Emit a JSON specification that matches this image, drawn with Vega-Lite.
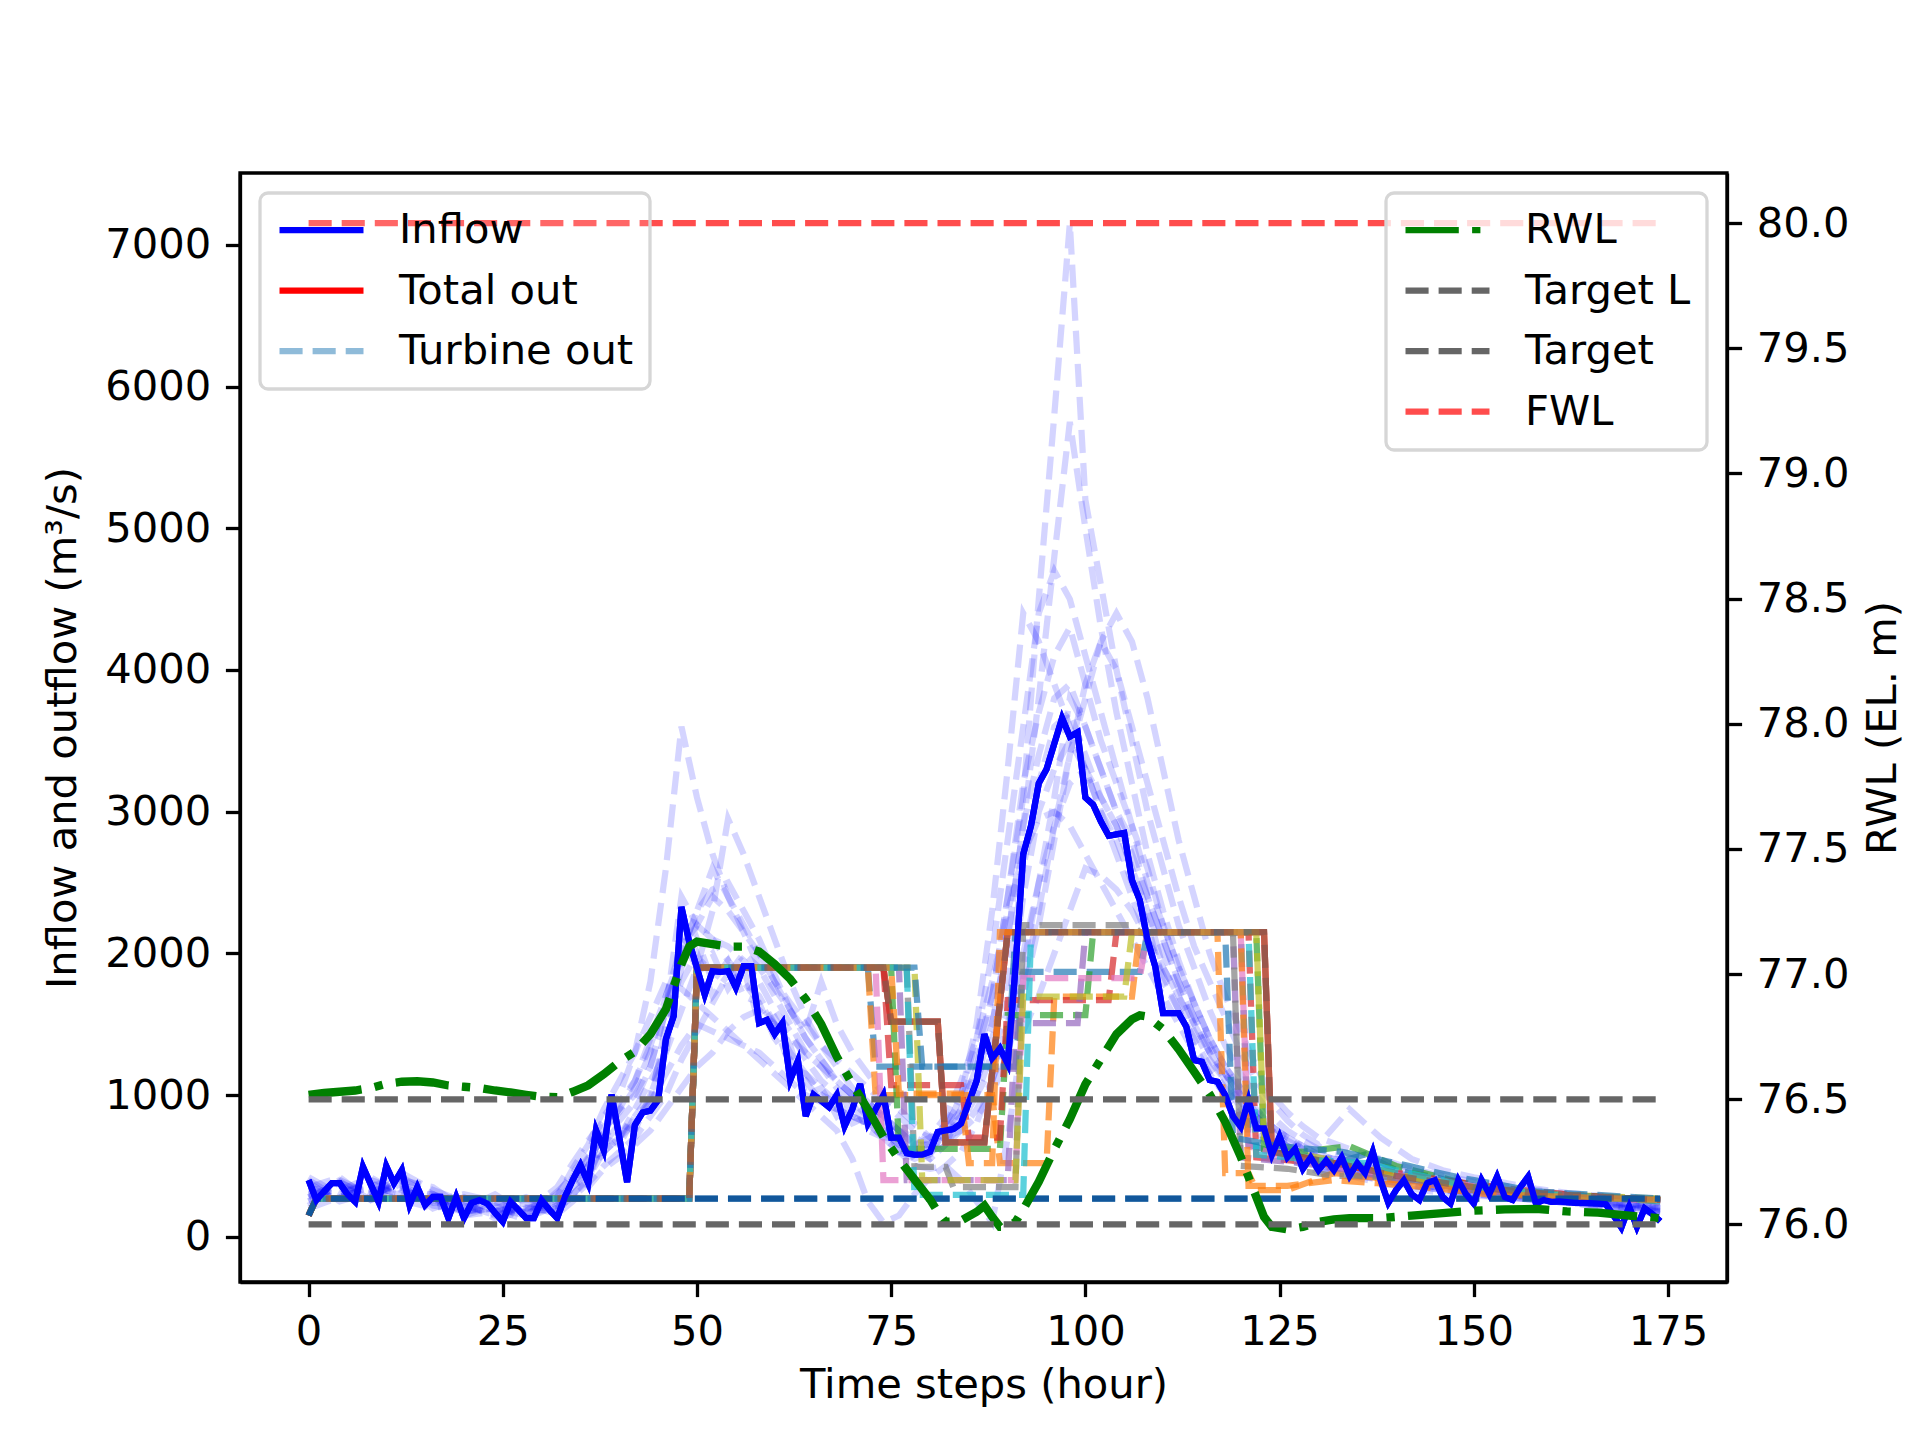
{
  "$schema": "https://vega.github.io/schema/vega-lite/v6.json",
  "width": 1487,
  "height": 1109,
  "autosize": {"type": "none"},
  "padding": {"left": 240, "top": 173, "right": 193, "bottom": 158},
  "background": "white",
  "config": {
    "font": "DejaVu Sans",
    "view": {"stroke": "black", "strokeWidth": 3.3},
    "axis": {
      "labelFont": "DejaVu Sans", "labelFontSize": 41.67, "labelColor": "black",
      "titleFont": "DejaVu Sans", "titleFontSize": 41.67, "titleFontWeight": "normal", "titleColor": "black",
      "tickSize": 14.6, "tickWidth": 3.3, "tickColor": "black",
      "domainColor": "black", "domainWidth": 3.3, "labelPadding": 14.6,
      "grid": false, "labelFlush": false, "labelOverlap": false, "labelBound": false
    },
    "legend": {
      "labelFont": "DejaVu Sans", "labelFontSize": 41.67, "labelColor": "black", "labelLimit": 600,
      "symbolType": "stroke", "symbolSize": 7056, "symbolStrokeWidth": 6.25, "labelOffset": 32,
      "clipHeight": 42, "padding": 16, "offset": 20,
      "strokeColor": "#d6d6d6", "strokeWidth": 3.3, "fillColor": "rgba(255,255,255,0.8)", "cornerRadius": 8
    }
  },
  "datasets": {
    "ens": [
      {"t":0,"m1":280,"m2":420,"m3":350,"m4":200,"m5":300,"m6":380,"m7":250,"m8":330,"m9":400,"m10":220,"m11":300,"m12":250,"m13":350,"m14":280},
      {"t":4,"m1":380,"m2":300,"m3":420,"m4":280,"m5":330,"m6":250,"m7":360,"m8":300,"m9":270,"m10":390,"m11":280,"m12":350,"m13":300,"m14":400},
      {"t":8,"m1":300,"m2":400,"m3":260,"m4":350,"m5":420,"m6":310,"m7":280,"m8":380,"m9":330,"m10":260,"m11":350,"m12":280,"m13":320,"m14":300},
      {"t":12,"m1":420,"m2":330,"m3":380,"m4":450,"m5":300,"m6":360,"m7":400,"m8":280,"m9":350,"m10":310,"m11":300,"m12":400,"m13":260,"m14":350},
      {"t":16,"m1":300,"m2":250,"m3":220,"m4":330,"m5":280,"m6":200,"m7":350,"m8":260,"m9":240,"m10":300,"m11":250,"m12":300,"m13":200,"m14":280},
      {"t":20,"m1":220,"m2":300,"m3":180,"m4":250,"m5":150,"m6":280,"m7":200,"m8":230,"m9":260,"m10":170,"m11":180,"m12":220,"m13":250,"m14":150},
      {"t":24,"m1":160,"m2":250,"m3":200,"m4":130,"m5":220,"m6":180,"m7":300,"m8":150,"m9":190,"m10":240,"m11":200,"m12":150,"m13":220,"m14":180},
      {"t":28,"m1":200,"m2":150,"m3":280,"m4":180,"m5":130,"m6":240,"m7":160,"m8":220,"m9":120,"m10":260,"m11":150,"m12":200,"m13":170,"m14":210},
      {"t":32,"m1":250,"m2":300,"m3":180,"m4":350,"m5":220,"m6":200,"m7":280,"m8":160,"m9":320,"m10":230,"m11":220,"m12":180,"m13":260,"m14":200},
      {"t":34,"m1":380,"m2":450,"m3":300,"m4":520,"m5":350,"m6":280,"m7":480,"m8":250,"m9":420,"m10":330,"m11":350,"m12":420,"m13":300,"m14":380},
      {"t":36,"m1":550,"m2":600,"m3":420,"m4":680,"m5":500,"m6":380,"m7":650,"m8":350,"m9":560,"m10":450,"m11":450,"m12":550,"m13":400,"m14":500},
      {"t":38,"m1":700,"m2":850,"m3":600,"m4":820,"m5":760,"m6":500,"m7":900,"m8":480,"m9":750,"m10":600,"m11":650,"m12":600,"m13":700,"m14":750},
      {"t":40,"m1":820,"m2":1000,"m3":700,"m4":950,"m5":880,"m6":600,"m7":1100,"m8":560,"m9":900,"m10":700,"m11":800,"m12":700,"m13":650,"m14":900},
      {"t":42,"m1":950,"m2":1300,"m3":850,"m4":1100,"m5":1050,"m6":700,"m7":1300,"m8":650,"m9":1100,"m10":800,"m11":750,"m12":900,"m13":850,"m14":1000},
      {"t":44,"m1":1200,"m2":1800,"m3":1000,"m4":1350,"m5":1300,"m6":850,"m7":1550,"m8":750,"m9":1400,"m10":950,"m11":1000,"m12":1100,"m13":950,"m14":1200},
      {"t":46,"m1":1600,"m2":2600,"m3":1300,"m4":1650,"m5":1700,"m6":1000,"m7":1800,"m8":900,"m9":1700,"m10":1150,"m11":1400,"m12":1300,"m13":1500,"m14":1600},
      {"t":48,"m1":2000,"m2":3600,"m3":1600,"m4":1950,"m5":2050,"m6":1250,"m7":1750,"m8":1050,"m9":2000,"m10":1350,"m11":1900,"m12":2100,"m13":1800,"m14":2400},
      {"t":50,"m1":2300,"m2":3100,"m3":1900,"m4":2200,"m5":2200,"m6":1450,"m7":1650,"m8":1200,"m9":2300,"m10":1500,"m11":2100,"m12":1900,"m13":2000,"m14":2200},
      {"t":52,"m1":2600,"m2":2700,"m3":2300,"m4":2400,"m5":2100,"m6":1650,"m7":1550,"m8":1300,"m9":2450,"m10":1450,"m11":1800,"m12":2000,"m13":1700,"m14":2100},
      {"t":54,"m1":2400,"m2":2400,"m3":2950,"m4":2300,"m5":1950,"m6":1850,"m7":1450,"m8":1450,"m9":2500,"m10":1400,"m11":1950,"m12":1750,"m13":1850,"m14":2050},
      {"t":56,"m1":2200,"m2":2150,"m3":2700,"m4":2150,"m5":1800,"m6":2000,"m7":1350,"m8":1550,"m9":2300,"m10":1350,"m11":1700,"m12":1900,"m13":1800,"m14":1950},
      {"t":58,"m1":2000,"m2":1900,"m3":2400,"m4":2000,"m5":1650,"m6":1900,"m7":1250,"m8":1600,"m9":2100,"m10":1300,"m11":1650,"m12":1500,"m13":1700,"m14":1800},
      {"t":60,"m1":1800,"m2":1700,"m3":2100,"m4":1800,"m5":1500,"m6":1750,"m7":1150,"m8":1500,"m9":1850,"m10":1200,"m11":1400,"m12":1550,"m13":1500,"m14":1600},
      {"t":62,"m1":1600,"m2":1500,"m3":1800,"m4":1650,"m5":1300,"m6":1600,"m7":1050,"m8":1400,"m9":1600,"m10":1100,"m11":1250,"m12":1350,"m13":1200,"m14":1450},
      {"t":64,"m1":1400,"m2":1300,"m3":1550,"m4":1500,"m5":1150,"m6":1450,"m7":950,"m8":1300,"m9":1400,"m10":1000,"m11":1100,"m12":1000,"m13":1150,"m14":1250},
      {"t":66,"m1":1250,"m2":1200,"m3":1350,"m4":1350,"m5":1050,"m6":1800,"m7":850,"m8":1200,"m9":1250,"m10":950,"m11":950,"m12":1050,"m13":1000,"m14":1100},
      {"t":68,"m1":1100,"m2":1050,"m3":1200,"m4":1250,"m5":950,"m6":1500,"m7":750,"m8":1100,"m9":1100,"m10":900,"m11":900,"m12":850,"m13":950,"m14":1000},
      {"t":70,"m1":1000,"m2":950,"m3":1050,"m4":1150,"m5":850,"m6":1300,"m7":550,"m8":1000,"m9":1000,"m10":850,"m11":850,"m12":950,"m13":800,"m14":900},
      {"t":72,"m1":950,"m2":850,"m3":950,"m4":1050,"m5":800,"m6":1150,"m7":250,"m8":950,"m9":900,"m10":800,"m11":800,"m12":750,"m13":850,"m14":900},
      {"t":74,"m1":850,"m2":750,"m3":850,"m4":950,"m5":700,"m6":1000,"m7":100,"m8":850,"m9":800,"m10":700,"m11":750,"m12":700,"m13":800,"m14":850},
      {"t":76,"m1":750,"m2":650,"m3":750,"m4":850,"m5":600,"m6":900,"m7":150,"m8":750,"m9":700,"m10":600,"m11":650,"m12":700,"m13":600,"m14":750},
      {"t":78,"m1":650,"m2":600,"m3":650,"m4":750,"m5":550,"m6":800,"m7":300,"m8":650,"m9":650,"m10":500,"m11":600,"m12":550,"m13":650,"m14":700},
      {"t":80,"m1":650,"m2":550,"m3":650,"m4":700,"m5":600,"m6":700,"m7":420,"m8":600,"m9":700,"m10":480,"m11":620,"m12":580,"m13":550,"m14":650},
      {"t":82,"m1":750,"m2":650,"m3":800,"m4":750,"m5":750,"m6":700,"m7":500,"m8":650,"m9":850,"m10":500,"m11":700,"m12":750,"m13":650,"m14":800},
      {"t":84,"m1":900,"m2":800,"m3":1000,"m4":850,"m5":1000,"m6":750,"m7":600,"m8":750,"m9":1100,"m10":400,"m11":850,"m12":800,"m13":900,"m14":950},
      {"t":86,"m1":1200,"m2":1100,"m3":1400,"m4":1000,"m5":1500,"m6":850,"m7":800,"m8":900,"m9":1400,"m10":250,"m11":1100,"m12":1000,"m13":1200,"m14":1300},
      {"t":88,"m1":1700,"m2":1500,"m3":2000,"m4":1200,"m5":2300,"m6":1000,"m7":1100,"m8":1100,"m9":1800,"m10":100,"m11":1400,"m12":1300,"m13":1500,"m14":1700},
      {"t":90,"m1":2400,"m2":2100,"m3":2800,"m4":1400,"m5":3300,"m6":1300,"m7":1500,"m8":1400,"m9":2300,"m10":700,"m11":1800,"m12":1600,"m13":2100,"m14":2400},
      {"t":92,"m1":3100,"m2":2900,"m3":3600,"m4":1800,"m5":4400,"m6":1700,"m7":2000,"m8":1900,"m9":2700,"m10":1450,"m11":2600,"m12":2400,"m13":2900,"m14":3200},
      {"t":94,"m1":4500,"m2":3800,"m3":4400,"m4":2300,"m5":4200,"m6":2200,"m7":2500,"m8":2500,"m9":2950,"m10":1700,"m11":3200,"m12":3000,"m13":3400,"m14":3700},
      {"t":96,"m1":5800,"m2":4800,"m3":4700,"m4":2900,"m5":3900,"m6":2800,"m7":2900,"m8":3100,"m9":3000,"m10":2000,"m11":3600,"m12":3300,"m13":3800,"m14":4100},
      {"t":98,"m1":7150,"m2":5750,"m3":4500,"m4":3400,"m5":3600,"m6":3400,"m7":3200,"m8":3800,"m9":2900,"m10":2300,"m11":3700,"m12":3500,"m13":3900,"m14":4300},
      {"t":100,"m1":5200,"m2":5000,"m3":4100,"m4":3800,"m5":3300,"m6":3900,"m7":3300,"m8":3600,"m9":2700,"m10":2600,"m11":3400,"m12":3300,"m13":3600,"m14":3900},
      {"t":102,"m1":4600,"m2":4300,"m3":3700,"m4":4200,"m5":3000,"m6":4200,"m7":3100,"m8":3300,"m9":2500,"m10":2550,"m11":3100,"m12":3000,"m13":3300,"m14":3500},
      {"t":104,"m1":4000,"m2":3700,"m3":3300,"m4":4400,"m5":2700,"m6":4000,"m7":2900,"m8":3000,"m9":2300,"m10":2450,"m11":2900,"m12":2800,"m13":3000,"m14":3200},
      {"t":106,"m1":3500,"m2":3200,"m3":2900,"m4":4200,"m5":2400,"m6":3600,"m7":2600,"m8":2700,"m9":2100,"m10":2300,"m11":2600,"m12":2500,"m13":2800,"m14":2900},
      {"t":108,"m1":3000,"m2":2700,"m3":2500,"m4":3800,"m5":2100,"m6":3200,"m7":2300,"m8":2400,"m9":1900,"m10":2100,"m11":2300,"m12":2200,"m13":2400,"m14":2600},
      {"t":110,"m1":2600,"m2":2300,"m3":2200,"m4":3300,"m5":1850,"m6":2800,"m7":2000,"m8":2100,"m9":1700,"m10":1900,"m11":1900,"m12":1800,"m13":2100,"m14":2200},
      {"t":112,"m1":2200,"m2":1950,"m3":1900,"m4":2800,"m5":1600,"m6":2400,"m7":1750,"m8":1800,"m9":1500,"m10":1700,"m11":1700,"m12":1600,"m13":1800,"m14":1900},
      {"t":114,"m1":1900,"m2":1650,"m3":1650,"m4":2400,"m5":1400,"m6":2050,"m7":1500,"m8":1550,"m9":1300,"m10":1500,"m11":1450,"m12":1350,"m13":1550,"m14":1650},
      {"t":116,"m1":1600,"m2":1400,"m3":1400,"m4":2000,"m5":1200,"m6":1800,"m7":1300,"m8":1350,"m9":1150,"m10":1300,"m11":1250,"m12":1150,"m13":1300,"m14":1400},
      {"t":118,"m1":1350,"m2":1200,"m3":1200,"m4":1700,"m5":1050,"m6":1550,"m7":1100,"m8":1150,"m9":1000,"m10":1150,"m11":1100,"m12":1000,"m13":1150,"m14":1200},
      {"t":120,"m1":1150,"m2":1000,"m3":1050,"m4":1450,"m5":900,"m6":1300,"m7":950,"m8":1000,"m9":850,"m10":1000,"m11":900,"m12":850,"m13":950,"m14":1050},
      {"t":122,"m1":1000,"m2":850,"m3":900,"m4":1200,"m5":780,"m6":1100,"m7":820,"m8":850,"m9":750,"m10":880,"m11":800,"m12":750,"m13":850,"m14":900},
      {"t":124,"m1":850,"m2":750,"m3":780,"m4":1000,"m5":680,"m6":950,"m7":720,"m8":750,"m9":650,"m10":780,"m11":680,"m12":620,"m13":720,"m14":780},
      {"t":126,"m1":750,"m2":650,"m3":700,"m4":880,"m5":600,"m6":820,"m7":640,"m8":680,"m9":580,"m10":700,"m11":600,"m12":560,"m13":640,"m14":700},
      {"t":128,"m1":680,"m2":580,"m3":640,"m4":780,"m5":540,"m6":720,"m7":580,"m8":620,"m9":520,"m10":640,"m11":550,"m12":500,"m13":580,"m14":620},
      {"t":130,"m1":620,"m2":530,"m3":580,"m4":700,"m5":500,"m6":650,"m7":530,"m8":560,"m9":480,"m10":580,"m11":500,"m12":460,"m13":520,"m14":560},
      {"t":134,"m1":560,"m2":470,"m3":520,"m4":620,"m5":450,"m6":900,"m7":480,"m8":500,"m9":440,"m10":520,"m11":480,"m12":430,"m13":500,"m14":540},
      {"t":138,"m1":500,"m2":420,"m3":470,"m4":550,"m5":400,"m6":700,"m7":430,"m8":450,"m9":400,"m10":470,"m11":420,"m12":380,"m13":440,"m14":470},
      {"t":142,"m1":450,"m2":380,"m3":420,"m4":480,"m5":360,"m6":550,"m7":390,"m8":400,"m9":360,"m10":420,"m11":380,"m12":340,"m13":400,"m14":430},
      {"t":146,"m1":400,"m2":340,"m3":380,"m4":430,"m5":330,"m6":470,"m7":350,"m8":360,"m9":330,"m10":380,"m11":340,"m12":310,"m13":360,"m14":380},
      {"t":150,"m1":360,"m2":310,"m3":340,"m4":390,"m5":300,"m6":420,"m7":320,"m8":330,"m9":300,"m10":340,"m11":310,"m12":290,"m13":330,"m14":350},
      {"t":154,"m1":330,"m2":290,"m3":310,"m4":360,"m5":280,"m6":380,"m7":300,"m8":300,"m9":280,"m10":310,"m11":320,"m12":280,"m13":300,"m14":330},
      {"t":158,"m1":300,"m2":270,"m3":290,"m4":330,"m5":260,"m6":340,"m7":280,"m8":280,"m9":260,"m10":290,"m11":280,"m12":260,"m13":290,"m14":300},
      {"t":162,"m1":280,"m2":250,"m3":270,"m4":300,"m5":240,"m6":310,"m7":260,"m8":260,"m9":240,"m10":270,"m11":250,"m12":240,"m13":260,"m14":280},
      {"t":166,"m1":260,"m2":230,"m3":250,"m4":280,"m5":220,"m6":290,"m7":240,"m8":240,"m9":220,"m10":250,"m11":230,"m12":220,"m13":240,"m14":260},
      {"t":170,"m1":240,"m2":210,"m3":230,"m4":260,"m5":200,"m6":270,"m7":220,"m8":220,"m9":200,"m10":230,"m11":200,"m12":190,"m13":210,"m14":230},
      {"t":174,"m1":220,"m2":190,"m3":210,"m4":240,"m5":180,"m6":250,"m7":200,"m8":200,"m9":180,"m10":210,"m11":170,"m12":160,"m13":190,"m14":200}
    ],
    "lines": [
      {"s":"Turbine out","t":0,"v":150},{"s":"Turbine out","t":1,"v":270},{"s":"Turbine out","t":174,"v":270},
      {"s":"Total out","t":0,"v":150},{"s":"Total out","t":1,"v":270},{"s":"Total out","t":49,"v":270},{"s":"Total out","t":50,"v":1900},
      {"s":"Total out","t":74,"v":1900},{"s":"Total out","t":75,"v":1518},{"s":"Total out","t":81,"v":1518},{"s":"Total out","t":82,"v":667},
      {"s":"Total out","t":87,"v":667},{"s":"Total out","t":90,"v":2150},{"s":"Total out","t":123,"v":2150},{"s":"Total out","t":124,"v":600},
      {"s":"Total out","t":128,"v":560},{"s":"Total out","t":134,"v":500},{"s":"Total out","t":140,"v":430},{"s":"Total out","t":150,"v":350},
      {"s":"Total out","t":160,"v":300},{"s":"Total out","t":174,"v":260},
      {"s":"Inflow","t":0,"v":400},{"s":"Inflow","t":1,"v":259},{"s":"Inflow","t":2,"v":320},{"s":"Inflow","t":3,"v":378},{"s":"Inflow","t":4,"v":378},
      {"s":"Inflow","t":5,"v":300},{"s":"Inflow","t":6,"v":247},{"s":"Inflow","t":7,"v":494},{"s":"Inflow","t":8,"v":370},{"s":"Inflow","t":9,"v":247},
      {"s":"Inflow","t":10,"v":499},{"s":"Inflow","t":11,"v":378},{"s":"Inflow","t":12,"v":470},{"s":"Inflow","t":13,"v":224},{"s":"Inflow","t":14,"v":350},
      {"s":"Inflow","t":15,"v":224},{"s":"Inflow","t":16,"v":282},{"s":"Inflow","t":17,"v":282},{"s":"Inflow","t":18,"v":132},{"s":"Inflow","t":19,"v":282},
      {"s":"Inflow","t":20,"v":132},{"s":"Inflow","t":21,"v":240},{"s":"Inflow","t":22,"v":259},{"s":"Inflow","t":23,"v":235},{"s":"Inflow","t":24,"v":170},
      {"s":"Inflow","t":25,"v":106},{"s":"Inflow","t":26,"v":247},{"s":"Inflow","t":27,"v":190},{"s":"Inflow","t":28,"v":132},{"s":"Inflow","t":29,"v":132},
      {"s":"Inflow","t":30,"v":259},{"s":"Inflow","t":31,"v":190},{"s":"Inflow","t":32,"v":132},{"s":"Inflow","t":33,"v":282},{"s":"Inflow","t":34,"v":400},
      {"s":"Inflow","t":35,"v":506},{"s":"Inflow","t":36,"v":378},{"s":"Inflow","t":37,"v":753},{"s":"Inflow","t":38,"v":612},{"s":"Inflow","t":39,"v":1003},
      {"s":"Inflow","t":40,"v":700},{"s":"Inflow","t":41,"v":386},{"s":"Inflow","t":42,"v":788},{"s":"Inflow","t":43,"v":877},{"s":"Inflow","t":44,"v":890},
      {"s":"Inflow","t":45,"v":965},{"s":"Inflow","t":46,"v":1395},{"s":"Inflow","t":47,"v":1558},{"s":"Inflow","t":48,"v":2327},{"s":"Inflow","t":49,"v":2080},
      {"s":"Inflow","t":50,"v":1896},{"s":"Inflow","t":51,"v":1708},{"s":"Inflow","t":52,"v":1875},{"s":"Inflow","t":53,"v":1870},{"s":"Inflow","t":54,"v":1875},
      {"s":"Inflow","t":55,"v":1759},{"s":"Inflow","t":56,"v":1910},{"s":"Inflow","t":57,"v":1910},{"s":"Inflow","t":58,"v":1508},{"s":"Inflow","t":59,"v":1530},
      {"s":"Inflow","t":60,"v":1430},{"s":"Inflow","t":61,"v":1508},{"s":"Inflow","t":62,"v":1106},{"s":"Inflow","t":63,"v":1242},{"s":"Inflow","t":64,"v":852},
      {"s":"Inflow","t":65,"v":1003},{"s":"Inflow","t":66,"v":960},{"s":"Inflow","t":67,"v":915},{"s":"Inflow","t":68,"v":1000},{"s":"Inflow","t":69,"v":780},
      {"s":"Inflow","t":70,"v":900},{"s":"Inflow","t":71,"v":1078},{"s":"Inflow","t":72,"v":800},{"s":"Inflow","t":73,"v":900},{"s":"Inflow","t":74,"v":1000},
      {"s":"Inflow","t":75,"v":700},{"s":"Inflow","t":76,"v":700},{"s":"Inflow","t":77,"v":590},{"s":"Inflow","t":78,"v":580},{"s":"Inflow","t":79,"v":580},
      {"s":"Inflow","t":80,"v":600},{"s":"Inflow","t":81,"v":740},{"s":"Inflow","t":82,"v":750},{"s":"Inflow","t":83,"v":760},{"s":"Inflow","t":84,"v":800},
      {"s":"Inflow","t":85,"v":950},{"s":"Inflow","t":86,"v":1100},{"s":"Inflow","t":87,"v":1430},{"s":"Inflow","t":88,"v":1260},{"s":"Inflow","t":89,"v":1330},
      {"s":"Inflow","t":90,"v":1220},{"s":"Inflow","t":91,"v":1900},{"s":"Inflow","t":92,"v":2700},{"s":"Inflow","t":93,"v":2900},{"s":"Inflow","t":94,"v":3200},
      {"s":"Inflow","t":95,"v":3300},{"s":"Inflow","t":96,"v":3480},{"s":"Inflow","t":97,"v":3660},{"s":"Inflow","t":98,"v":3530},{"s":"Inflow","t":99,"v":3560},
      {"s":"Inflow","t":100,"v":3100},{"s":"Inflow","t":101,"v":3050},{"s":"Inflow","t":102,"v":2930},{"s":"Inflow","t":103,"v":2830},{"s":"Inflow","t":104,"v":2840},
      {"s":"Inflow","t":105,"v":2850},{"s":"Inflow","t":106,"v":2516},{"s":"Inflow","t":107,"v":2376},{"s":"Inflow","t":108,"v":2094},{"s":"Inflow","t":109,"v":1906},
      {"s":"Inflow","t":110,"v":1578},{"s":"Inflow","t":111,"v":1578},{"s":"Inflow","t":112,"v":1578},{"s":"Inflow","t":113,"v":1482},{"s":"Inflow","t":114,"v":1247},
      {"s":"Inflow","t":115,"v":1235},{"s":"Inflow","t":116,"v":1106},{"s":"Inflow","t":117,"v":1094},{"s":"Inflow","t":118,"v":1000},{"s":"Inflow","t":119,"v":850},
      {"s":"Inflow","t":120,"v":776},{"s":"Inflow","t":121,"v":965},{"s":"Inflow","t":122,"v":765},{"s":"Inflow","t":123,"v":765},{"s":"Inflow","t":124,"v":577},
      {"s":"Inflow","t":125,"v":706},{"s":"Inflow","t":126,"v":560},{"s":"Inflow","t":127,"v":620},{"s":"Inflow","t":128,"v":480},{"s":"Inflow","t":129,"v":560},
      {"s":"Inflow","t":130,"v":470},{"s":"Inflow","t":131,"v":540},{"s":"Inflow","t":132,"v":470},{"s":"Inflow","t":133,"v":560},{"s":"Inflow","t":134,"v":430},
      {"s":"Inflow","t":135,"v":520},{"s":"Inflow","t":136,"v":450},{"s":"Inflow","t":137,"v":600},{"s":"Inflow","t":138,"v":400},{"s":"Inflow","t":139,"v":240},
      {"s":"Inflow","t":140,"v":330},{"s":"Inflow","t":141,"v":400},{"s":"Inflow","t":142,"v":300},{"s":"Inflow","t":143,"v":260},{"s":"Inflow","t":144,"v":380},
      {"s":"Inflow","t":145,"v":400},{"s":"Inflow","t":146,"v":280},{"s":"Inflow","t":147,"v":235},{"s":"Inflow","t":148,"v":400},{"s":"Inflow","t":149,"v":300},
      {"s":"Inflow","t":150,"v":235},{"s":"Inflow","t":151,"v":400},{"s":"Inflow","t":152,"v":300},{"s":"Inflow","t":153,"v":424},{"s":"Inflow","t":154,"v":280},
      {"s":"Inflow","t":155,"v":260},{"s":"Inflow","t":156,"v":350},{"s":"Inflow","t":157,"v":424},{"s":"Inflow","t":158,"v":235},{"s":"Inflow","t":159,"v":260},
      {"s":"Inflow","t":160,"v":247},{"s":"Inflow","t":161,"v":250},{"s":"Inflow","t":162,"v":245},{"s":"Inflow","t":163,"v":240},{"s":"Inflow","t":164,"v":240},
      {"s":"Inflow","t":165,"v":238},{"s":"Inflow","t":166,"v":235},{"s":"Inflow","t":167,"v":230},{"s":"Inflow","t":168,"v":150},{"s":"Inflow","t":169,"v":65},
      {"s":"Inflow","t":170,"v":212},{"s":"Inflow","t":171,"v":70},{"s":"Inflow","t":172,"v":200},{"s":"Inflow","t":173,"v":160},{"s":"Inflow","t":174,"v":110}
    ],
    "out": [
      {"s":"m","t":50,"v":1900},{"s":"m","t":74,"v":1900},{"s":"m","t":75,"v":1518},{"s":"m","t":81,"v":1518},{"s":"m","t":82,"v":667},{"s":"m","t":87,"v":667},{"s":"m","t":90,"v":2150},{"s":"m","t":123,"v":2150},{"s":"m","t":124,"v":600},{"s":"m","t":128,"v":560},{"s":"m","t":134,"v":500},{"s":"m","t":140,"v":430},{"s":"m","t":150,"v":350},{"s":"m","t":160,"v":300},{"s":"m","t":174,"v":260},
      {"s":"a","t":0,"v":150},{"s":"a","t":1,"v":270},{"s":"a","t":49,"v":270},{"s":"a","t":50,"v":1900},{"s":"a","t":72,"v":1900},{"s":"a","t":73,"v":1200},{"s":"a","t":91,"v":1200},{"s":"a","t":92,"v":1870},{"s":"a","t":107,"v":1870},{"s":"a","t":108,"v":2150},{"s":"a","t":120,"v":2150},{"s":"a","t":121,"v":650},{"s":"a","t":124,"v":600},{"s":"a","t":128,"v":560},{"s":"a","t":132,"v":520},{"s":"a","t":136,"v":580},{"s":"a","t":140,"v":470},{"s":"a","t":145,"v":420},{"s":"a","t":150,"v":350},{"s":"a","t":155,"v":320},{"s":"a","t":160,"v":300},{"s":"a","t":166,"v":280},{"s":"a","t":170,"v":270},{"s":"a","t":174,"v":250},
      {"s":"b","t":0,"v":150},{"s":"b","t":1,"v":270},{"s":"b","t":49,"v":270},{"s":"b","t":50,"v":1900},{"s":"b","t":72,"v":1900},{"s":"b","t":73,"v":1000},{"s":"b","t":88,"v":1000},{"s":"b","t":89,"v":520},{"s":"b","t":95,"v":520},{"s":"b","t":96,"v":1694},{"s":"b","t":106,"v":1694},{"s":"b","t":107,"v":2150},{"s":"b","t":117,"v":2150},{"s":"b","t":118,"v":450},{"s":"b","t":121,"v":450},{"s":"b","t":122,"v":330},{"s":"b","t":126,"v":330},{"s":"b","t":132,"v":450},{"s":"b","t":140,"v":400},{"s":"b","t":150,"v":330},{"s":"b","t":160,"v":290},{"s":"b","t":174,"v":260},
      {"s":"c","t":0,"v":150},{"s":"c","t":1,"v":270},{"s":"c","t":49,"v":270},{"s":"c","t":50,"v":1900},{"s":"c","t":75,"v":1900},{"s":"c","t":76,"v":620},{"s":"c","t":89,"v":620},{"s":"c","t":90,"v":1565},{"s":"c","t":100,"v":1565},{"s":"c","t":101,"v":2150},{"s":"c","t":122,"v":2150},{"s":"c","t":123,"v":620},{"s":"c","t":128,"v":600},{"s":"c","t":134,"v":640},{"s":"c","t":140,"v":500},{"s":"c","t":150,"v":360},{"s":"c","t":160,"v":300},{"s":"c","t":174,"v":260},
      {"s":"d","t":0,"v":150},{"s":"d","t":1,"v":270},{"s":"d","t":49,"v":270},{"s":"d","t":50,"v":1900},{"s":"d","t":74,"v":1900},{"s":"d","t":75,"v":1070},{"s":"d","t":84,"v":1070},{"s":"d","t":85,"v":700},{"s":"d","t":89,"v":700},{"s":"d","t":90,"v":1670},{"s":"d","t":103,"v":1670},{"s":"d","t":104,"v":2150},{"s":"d","t":121,"v":2150},{"s":"d","t":122,"v":560},{"s":"d","t":130,"v":520},{"s":"d","t":138,"v":470},{"s":"d","t":146,"v":400},{"s":"d","t":156,"v":330},{"s":"d","t":166,"v":280},{"s":"d","t":174,"v":250},
      {"s":"e","t":0,"v":150},{"s":"e","t":1,"v":270},{"s":"e","t":49,"v":270},{"s":"e","t":50,"v":1900},{"s":"e","t":76,"v":1900},{"s":"e","t":77,"v":400},{"s":"e","t":90,"v":400},{"s":"e","t":91,"v":1508},{"s":"e","t":99,"v":1508},{"s":"e","t":100,"v":2150},{"s":"e","t":119,"v":2150},{"s":"e","t":120,"v":560},{"s":"e","t":128,"v":520},{"s":"e","t":136,"v":450},{"s":"e","t":144,"v":380},{"s":"e","t":152,"v":320},{"s":"e","t":162,"v":290},{"s":"e","t":174,"v":250},
      {"s":"g","t":0,"v":150},{"s":"g","t":1,"v":270},{"s":"g","t":49,"v":270},{"s":"g","t":50,"v":1900},{"s":"g","t":73,"v":1900},{"s":"g","t":74,"v":400},{"s":"g","t":91,"v":400},{"s":"g","t":92,"v":1825},{"s":"g","t":107,"v":1825},{"s":"g","t":108,"v":2150},{"s":"g","t":120,"v":2150},{"s":"g","t":121,"v":640},{"s":"g","t":126,"v":560},{"s":"g","t":134,"v":480},{"s":"g","t":142,"v":420},{"s":"g","t":150,"v":360},{"s":"g","t":160,"v":300},{"s":"g","t":174,"v":250},
      {"s":"h","t":0,"v":150},{"s":"h","t":1,"v":270},{"s":"h","t":49,"v":270},{"s":"h","t":50,"v":1900},{"s":"h","t":77,"v":1900},{"s":"h","t":78,"v":494},{"s":"h","t":82,"v":494},{"s":"h","t":83,"v":350},{"s":"h","t":91,"v":350},{"s":"h","t":92,"v":2200},{"s":"h","t":106,"v":2200},{"s":"h","t":107,"v":2150},{"s":"h","t":119,"v":2150},{"s":"h","t":120,"v":500},{"s":"h","t":126,"v":480},{"s":"h","t":132,"v":430},{"s":"h","t":140,"v":420},{"s":"h","t":150,"v":330},{"s":"h","t":160,"v":280},{"s":"h","t":174,"v":260},
      {"s":"i","t":0,"v":150},{"s":"i","t":1,"v":270},{"s":"i","t":49,"v":270},{"s":"i","t":50,"v":1900},{"s":"i","t":78,"v":1900},{"s":"i","t":79,"v":400},{"s":"i","t":91,"v":400},{"s":"i","t":92,"v":1694},{"s":"i","t":105,"v":1694},{"s":"i","t":106,"v":2150},{"s":"i","t":122,"v":2150},{"s":"i","t":123,"v":700},{"s":"i","t":128,"v":580},{"s":"i","t":134,"v":520},{"s":"i","t":142,"v":420},{"s":"i","t":150,"v":350},{"s":"i","t":160,"v":300},{"s":"i","t":174,"v":270},
      {"s":"j","t":0,"v":150},{"s":"j","t":1,"v":270},{"s":"j","t":49,"v":270},{"s":"j","t":50,"v":1900},{"s":"j","t":77,"v":1900},{"s":"j","t":78,"v":295},{"s":"j","t":92,"v":295},{"s":"j","t":93,"v":2150},{"s":"j","t":121,"v":2150},{"s":"j","t":122,"v":580},{"s":"j","t":130,"v":540},{"s":"j","t":136,"v":520},{"s":"j","t":140,"v":470},{"s":"j","t":150,"v":350},{"s":"j","t":160,"v":300},{"s":"j","t":174,"v":250},
      {"s":"k","t":0,"v":150},{"s":"k","t":1,"v":270},{"s":"k","t":49,"v":270},{"s":"k","t":50,"v":1900},{"s":"k","t":78,"v":1900},{"s":"k","t":79,"v":1200},{"s":"k","t":90,"v":1200},{"s":"k","t":91,"v":2150},{"s":"k","t":118,"v":2150},{"s":"k","t":119,"v":700},{"s":"k","t":125,"v":640},{"s":"k","t":133,"v":600},{"s":"k","t":140,"v":520},{"s":"k","t":148,"v":420},{"s":"k","t":158,"v":320},{"s":"k","t":174,"v":270},
      {"s":"l","t":0,"v":150},{"s":"l","t":1,"v":270},{"s":"l","t":49,"v":270},{"s":"l","t":50,"v":1900},{"s":"l","t":75,"v":1900},{"s":"l","t":76,"v":1010},{"s":"l","t":84,"v":1010},{"s":"l","t":85,"v":520},{"s":"l","t":88,"v":520},{"s":"l","t":89,"v":2150},{"s":"l","t":120,"v":2150},{"s":"l","t":121,"v":360},{"s":"l","t":126,"v":360},{"s":"l","t":132,"v":400},{"s":"l","t":142,"v":360},{"s":"l","t":152,"v":300},{"s":"l","t":174,"v":260},
      {"s":"f","t":0,"v":150},{"s":"f","t":1,"v":270},{"s":"f","t":49,"v":270},{"s":"f","t":50,"v":1900},{"s":"f","t":74,"v":1900},{"s":"f","t":75,"v":1518},{"s":"f","t":81,"v":1518},{"s":"f","t":82,"v":667},{"s":"f","t":87,"v":667},{"s":"f","t":90,"v":2150},{"s":"f","t":123,"v":2150},{"s":"f","t":124,"v":600},{"s":"f","t":128,"v":560},{"s":"f","t":134,"v":500},{"s":"f","t":140,"v":430},{"s":"f","t":150,"v":350},{"s":"f","t":160,"v":300},{"s":"f","t":174,"v":260}
    ],
    "rw": [
      {"k":"RWL","t":0,"v":76.517},{"k":"RWL","t":2,"v":76.525},{"k":"RWL","t":4,"v":76.53},{"k":"RWL","t":6,"v":76.535},{"k":"RWL","t":8,"v":76.545},
      {"k":"RWL","t":10,"v":76.562},{"k":"RWL","t":12,"v":76.57},{"k":"RWL","t":14,"v":76.572},{"k":"RWL","t":16,"v":76.567},{"k":"RWL","t":18,"v":76.555},
      {"k":"RWL","t":20,"v":76.55},{"k":"RWL","t":22,"v":76.545},{"k":"RWL","t":24,"v":76.535},{"k":"RWL","t":26,"v":76.527},{"k":"RWL","t":28,"v":76.518},
      {"k":"RWL","t":30,"v":76.51},{"k":"RWL","t":32,"v":76.508},{"k":"RWL","t":34,"v":76.53},{"k":"RWL","t":36,"v":76.556},{"k":"RWL","t":38,"v":76.6},
      {"k":"RWL","t":40,"v":76.65},{"k":"RWL","t":42,"v":76.69},{"k":"RWL","t":44,"v":76.76},{"k":"RWL","t":46,"v":76.86},{"k":"RWL","t":47,"v":76.95},
      {"k":"RWL","t":48,"v":77.04},{"k":"RWL","t":49,"v":77.11},{"k":"RWL","t":50,"v":77.13},{"k":"RWL","t":52,"v":77.12},{"k":"RWL","t":54,"v":77.11},
      {"k":"RWL","t":56,"v":77.11},{"k":"RWL","t":58,"v":77.09},{"k":"RWL","t":60,"v":77.04},{"k":"RWL","t":62,"v":76.98},{"k":"RWL","t":64,"v":76.9},
      {"k":"RWL","t":66,"v":76.8},{"k":"RWL","t":68,"v":76.67},{"k":"RWL","t":70,"v":76.56},{"k":"RWL","t":72,"v":76.46},{"k":"RWL","t":74,"v":76.35},
      {"k":"RWL","t":76,"v":76.26},{"k":"RWL","t":78,"v":76.18},{"k":"RWL","t":80,"v":76.1},{"k":"RWL","t":81,"v":76.05},{"k":"RWL","t":82,"v":76.01},
      {"k":"RWL","t":84,"v":76.015},{"k":"RWL","t":86,"v":76.05},{"k":"RWL","t":87,"v":76.075},{"k":"RWL","t":88,"v":76.03},{"k":"RWL","t":89,"v":75.99},
      {"k":"RWL","t":90,"v":75.99},{"k":"RWL","t":91,"v":76.01},{"k":"RWL","t":92,"v":76.06},{"k":"RWL","t":94,"v":76.17},{"k":"RWL","t":96,"v":76.3},
      {"k":"RWL","t":98,"v":76.42},{"k":"RWL","t":100,"v":76.56},{"k":"RWL","t":102,"v":76.66},{"k":"RWL","t":104,"v":76.76},{"k":"RWL","t":106,"v":76.82},
      {"k":"RWL","t":107,"v":76.835},{"k":"RWL","t":108,"v":76.83},{"k":"RWL","t":110,"v":76.78},{"k":"RWL","t":112,"v":76.7},{"k":"RWL","t":114,"v":76.61},
      {"k":"RWL","t":116,"v":76.52},{"k":"RWL","t":118,"v":76.41},{"k":"RWL","t":120,"v":76.27},{"k":"RWL","t":122,"v":76.11},{"k":"RWL","t":123,"v":76.03},
      {"k":"RWL","t":124,"v":75.99},{"k":"RWL","t":126,"v":75.98},{"k":"RWL","t":128,"v":75.99},{"k":"RWL","t":130,"v":76.01},{"k":"RWL","t":132,"v":76.02},
      {"k":"RWL","t":134,"v":76.025},{"k":"RWL","t":138,"v":76.025},{"k":"RWL","t":142,"v":76.035},{"k":"RWL","t":146,"v":76.045},{"k":"RWL","t":150,"v":76.055},
      {"k":"RWL","t":154,"v":76.06},{"k":"RWL","t":158,"v":76.062},{"k":"RWL","t":162,"v":76.052},{"k":"RWL","t":166,"v":76.047},{"k":"RWL","t":170,"v":76.035},
      {"k":"RWL","t":174,"v":76.025},
      {"k":"Target L","t":0,"v":76.0},{"k":"Target L","t":174,"v":76.0},
      {"k":"Target","t":0,"v":76.5},{"k":"Target","t":174,"v":76.5},
      {"k":"FWL","t":0,"v":80.0},{"k":"FWL","t":174,"v":80.0}
    ]
  },
  "layer": [
    {
      "layer": [
        {
          "data": {"name": "ens"},
          "transform": [{"fold": ["m1","m2","m3","m4","m5","m6","m7","m8","m9","m10","m11","m12","m13","m14"], "as": ["m","v"]}],
          "mark": {"type": "line", "color": "#0000ff", "opacity": 0.17, "strokeWidth": 6.25, "strokeDash": [23.1, 10]},
          "encoding": {
            "x": {"field": "t", "type": "quantitative", "title": "Time steps (hour)",
              "scale": {"domain": [-8.83, 182.6], "nice": false, "zero": false},
              "axis": {"values": [0,25,50,75,100,125,150,175], "format": "d", "titlePadding": 12}},
            "y": {"field": "v", "type": "quantitative", "title": "Inflow and outflow (m³/s)",
              "scale": {"domain": [-319, 7507], "nice": false, "zero": false},
              "axis": {"orient": "left", "values": [0,1000,2000,3000,4000,5000,6000,7000], "format": "d", "titlePadding": 20}},
            "detail": {"field": "m"}
          }
        },
        {
          "data": {"name": "lines"},
          "mark": {"type": "line", "strokeWidth": 6.25},
          "encoding": {
            "x": {"field": "t", "type": "quantitative", "title": "Time steps (hour)",
              "scale": {"domain": [-8.83, 182.6], "nice": false, "zero": false},
              "axis": {"values": [0,25,50,75,100,125,150,175], "format": "d", "titlePadding": 12}},
            "y": {"field": "v", "type": "quantitative", "title": "Inflow and outflow (m³/s)",
              "scale": {"domain": [-319, 7507], "nice": false, "zero": false},
              "axis": {"orient": "left", "values": [0,1000,2000,3000,4000,5000,6000,7000], "format": "d", "titlePadding": 20}},
            "color": {"field": "s", "type": "nominal",
              "scale": {"domain": ["Inflow","Total out","Turbine out"], "range": ["#0000ff","#ff0000","#8fbbd9"]},
              "legend": {"title": null, "orient": "top-left", "rowPadding": 17.5, "fillColor": "rgba(255,255,255,0.15)"}},
            "strokeDash": {"field": "s", "type": "nominal",
              "scale": {"domain": ["Inflow","Total out","Turbine out"], "range": [[1,0],[1,0],[23.1,10]]},
              "legend": {"title": null, "orient": "top-left", "rowPadding": 17.5, "fillColor": "rgba(255,255,255,0.15)"}}
          }
        },
        {
          "data": {"name": "out"},
          "mark": {"type": "line", "strokeWidth": 6.25, "opacity": 0.7},
          "encoding": {
            "x": {"field": "t", "type": "quantitative", "title": "Time steps (hour)",
              "scale": {"domain": [-8.83, 182.6], "nice": false, "zero": false},
              "axis": {"values": [0,25,50,75,100,125,150,175], "format": "d", "titlePadding": 12}},
            "y": {"field": "v", "type": "quantitative", "title": "Inflow and outflow (m³/s)",
              "scale": {"domain": [-319, 7507], "nice": false, "zero": false},
              "axis": {"orient": "left", "values": [0,1000,2000,3000,4000,5000,6000,7000], "format": "d", "titlePadding": 20}},
            "color": {"field": "s", "type": "nominal", "legend": null,
              "scale": {"domain": ["m","a","b","c","d","e","g","h","i","j","k","l","f"],
                "range": ["#a08468","#1f77b4","#ff7f0e","#2ca02c","#d62728","#9467bd","#e377c2","#7f7f7f","#bcbd22","#17becf","#1f77b4","#ff7f0e","#8c564b"]}},
            "strokeDash": {"field": "s", "type": "nominal", "legend": null,
              "scale": {"domain": ["m","a","b","c","d","e","g","h","i","j","k","l","f"],
                "range": [[1,0],[23.1,10],[0,4,23.1,6],[0,8,23.1,2],[6,10,17.1,0],[12,10,11.1,0],[3,10,20.1,0],[0,2,23.1,8],[9,10,14.1,0],[0,6,23.1,4],[15,10,8.1,0],[21,10,2.1,0],[18,10,5.1,0]]}}
          }
        },
        {
          "data": {"name": "lines"},
          "transform": [{"filter": "datum.s === 'Turbine out'"}],
          "mark": {"type": "line", "color": "#11579b", "strokeWidth": 6.25, "strokeDash": [23.1, 10]},
          "encoding": {
            "x": {"field": "t", "type": "quantitative", "title": "Time steps (hour)",
              "scale": {"domain": [-8.83, 182.6], "nice": false, "zero": false},
              "axis": {"values": [0,25,50,75,100,125,150,175], "format": "d", "titlePadding": 12}},
            "y": {"field": "v", "type": "quantitative", "title": "Inflow and outflow (m³/s)",
              "scale": {"domain": [-319, 7507], "nice": false, "zero": false},
              "axis": {"orient": "left", "values": [0,1000,2000,3000,4000,5000,6000,7000], "format": "d", "titlePadding": 20}}
          }
        },
        {
          "data": {"name": "lines"},
          "transform": [{"filter": "datum.s === 'Inflow'"}],
          "mark": {"type": "line", "color": "#0000ff", "strokeWidth": 6.25},
          "encoding": {
            "x": {"field": "t", "type": "quantitative", "title": "Time steps (hour)",
              "scale": {"domain": [-8.83, 182.6], "nice": false, "zero": false},
              "axis": {"values": [0,25,50,75,100,125,150,175], "format": "d", "titlePadding": 12}},
            "y": {"field": "v", "type": "quantitative", "title": "Inflow and outflow (m³/s)",
              "scale": {"domain": [-319, 7507], "nice": false, "zero": false},
              "axis": {"orient": "left", "values": [0,1000,2000,3000,4000,5000,6000,7000], "format": "d", "titlePadding": 20}}
          }
        }
      ],
      "resolve": {"scale": {"color": "independent", "strokeDash": "independent"}}
    },
    {
      "data": {"name": "rw"},
      "mark": {"type": "line"},
      "encoding": {
        "x": {"field": "t", "type": "quantitative", "title": "Time steps (hour)",
          "scale": {"domain": [-8.83, 182.6], "nice": false, "zero": false},
          "axis": {"values": [0,25,50,75,100,125,150,175], "format": "d", "titlePadding": 12}},
        "y": {"field": "v", "type": "quantitative", "title": "RWL (EL. m)",
          "scale": {"domain": [75.77, 80.2], "nice": false, "zero": false},
          "axis": {"orient": "right", "values": [76,76.5,77,77.5,78,78.5,79,79.5,80], "format": ".1f",
            "titleAngle": 270, "titleBaseline": "top", "titlePadding": 14}},
        "color": {"field": "k", "type": "nominal",
          "scale": {"domain": ["RWL","Target L","Target","FWL"], "range": ["#008000","#666666","#666666","#ff4c4c"]},
          "legend": {"title": null, "orient": "top-right", "rowPadding": 17.5}},
        "strokeDash": {"field": "k", "type": "nominal",
          "scale": {"domain": ["RWL","Target L","Target","FWL"], "range": [[53.3,13.3,8.3,13.3],[23.1,10],[23.1,10],[23.1,10]]},
          "legend": {"title": null, "orient": "top-right", "rowPadding": 17.5}},
        "strokeWidth": {"condition": {"test": "datum.k === 'RWL'", "value": 8.33}, "value": 6.25}
      }
    }
  ],
  "resolve": {"scale": {"y": "independent", "color": "independent", "strokeDash": "independent"}}
}
